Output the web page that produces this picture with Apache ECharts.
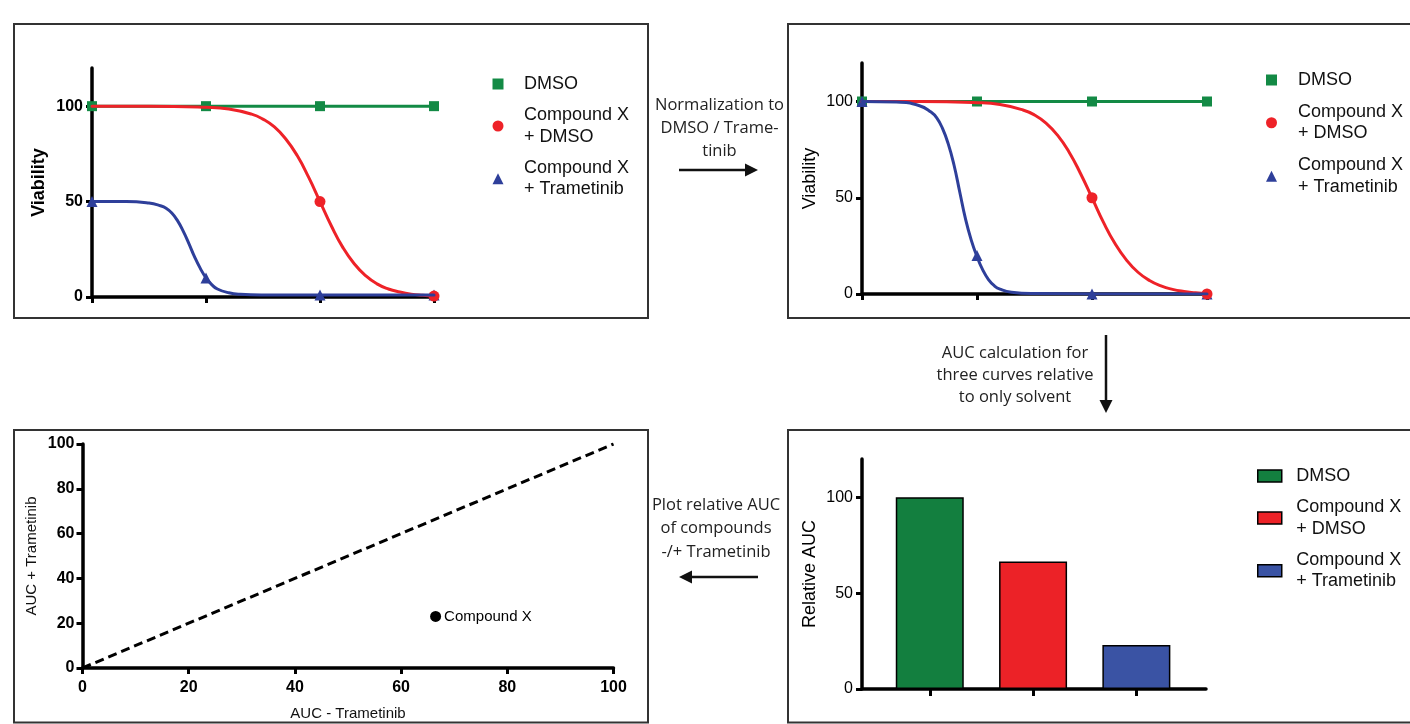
<!DOCTYPE html>
<html><head><meta charset="utf-8">
<script src="https://cdn.jsdelivr.net/npm/echarts@6/dist/echarts.min.js"></script>
<style>html,body{margin:0;padding:0;background:#fff}#c{width:1410px;height:724px}</style>
</head><body><div id="c"></div>
<script>
// ---------------- data ----------------
const seriesNames = ['DMSO', 'Compound X + DMSO', 'Compound X + Trametinib'];
const doses = [0, 1, 2, 3];
const viabilityTicks = [0, 50, 100];
const aucAxisTicks = [0, 20, 40, 60, 80, 100];

// Panel A: raw viability (points)
const rawDmso = [100, 100, 100, 100];
const rawCxDmso = [null, null, 50, 0.5];
const rawCxTram = [50, 10, 1, 1];
// Panel A: fitted curves
const fitRedX = [0, 0.5, 1.0, 1.2, 1.4, 1.5, 1.6, 1.7, 1.8, 1.9, 2.0, 2.1, 2.2, 2.3, 2.4, 2.5, 2.6, 2.7, 2.8, 2.9, 3.0];
const rawFitCxDmso = [100, 100, 99.4, 98.5, 95.8, 93.2, 89.1, 82.8, 74.1, 62.8, 50, 37.2, 26, 17.4, 11.2, 6.9, 4.2, 2.6, 1.5, 0.9, 0.5];
const rawFitTramX = [0, 0.3, 0.5, 0.6, 0.65, 0.7, 0.75, 0.8, 0.85, 0.9, 0.95, 1.0, 1.05, 1.1, 1.2, 1.3, 1.5, 2.0, 2.5, 3.0];
const rawFitCxTram = [50, 50, 49.2, 47.8, 46.5, 44, 40, 34.5, 28, 21, 15, 10, 6.5, 4.2, 2.2, 1.4, 1.05, 1, 1, 1];

// Panel B: normalized viability (points)
const normDmso = [100, 100, 100, 100];
const normCxDmso = [null, null, 50, 0];
const normCxTram = [100, 20, 0, 0];
// Panel B: fitted curves
const normFitCxDmso = [100, 100, 99.4, 98.4, 95.6, 93, 88.8, 82.5, 73.8, 62.6, 50, 37.2, 26.2, 17.6, 11.3, 7, 4.2, 2.4, 1.3, 0.6, 0];
const normFitTramX = [0, 0.3, 0.5, 0.6, 0.65, 0.7, 0.75, 0.8, 0.85, 0.9, 0.95, 1.0, 1.05, 1.1, 1.15, 1.2, 1.3, 1.5, 2.0, 3.0];
const normFitCxTram = [100, 99.7, 97.8, 94.5, 91.5, 86, 78, 67, 53, 39, 28, 19.5, 12.5, 7.5, 4.3, 2.5, 0.9, 0.2, 0, 0];

// Panel C: relative AUC
const aucValues = [100, 66.5, 23];

// Panel D: AUC -/+ Trametinib
const compoundName = 'Compound X';
const aucMinusTram = [66.5];
const aucPlusTram = [23];
const identityLine = [[0, 0], [100, 100]];

// ---------------- styling ----------------
const FONT = '"Liberation Sans", Arial, sans-serif';
const NOTE_FONT = '"Open Sans", "Noto Sans", sans-serif';
const pointColors = ['#138A45', '#EE2228', '#2E3F9A'];
const barColors = ['#137F3F', '#EC2227', '#3A53A4'];

function xy(xs, ys) { return xs.map((x, i) => [x, ys[i]]).filter(p => p[1] != null); }

function baseAxis(gridIndex, bold) {
  return {
    gridIndex: gridIndex,
    type: 'value',
    axisLine: {show: true, onZero: false, lineStyle: {color: '#000', width: 3.5}},
    axisTick: {show: true, length: 6, lineStyle: {color: '#000', width: 3}},
    splitLine: {show: false},
    axisLabel: {color: '#000', fontFamily: FONT, fontSize: 16, fontWeight: bold ? 'bold' : 'normal', margin: 9},
    nameTextStyle: {color: '#000', fontFamily: FONT, fontSize: 18, fontWeight: bold ? 'bold' : 'normal'}
  };
}
function doseAxis(g) {
  return Object.assign(baseAxis(g, false), {min: 0, max: 3, interval: 1, axisLabel: {show: false}});
}
function viabAxis(g, bold, name, gap) {
  const a = baseAxis(g, bold);
  a.min = 0; a.max = 120;
  a.axisTick.customValues = viabilityTicks;
  a.axisLabel.customValues = viabilityTicks;
  a.name = name; a.nameLocation = 'middle'; a.nameRotate = 90; a.nameGap = gap;
  return a;
}

function fitLine(idx, name, color, xs, ys) {
  return {type: 'line', name: name, xAxisIndex: idx, yAxisIndex: idx, data: xy(xs, ys),
    symbol: 'none', smooth: 0.5, lineStyle: {color: color, width: 3, cap: 'round', join: 'round'},
    itemStyle: {color: color}};
}
function pointSeries(idx, name, color, sym, size, ys) {
  return {type: 'scatter', name: name, xAxisIndex: idx, yAxisIndex: idx, data: xy(doses, ys),
    symbol: sym, symbolSize: size, itemStyle: {color: color, opacity: 1}};
}
function curvePanel(idx, pts, fits) {
  return [
    {type: 'line', name: seriesNames[0], xAxisIndex: idx, yAxisIndex: idx, data: xy(doses, pts[0]),
      symbol: 'none', lineStyle: {color: pointColors[0], width: 3}, itemStyle: {color: pointColors[0]}},
    fitLine(idx, seriesNames[1], pointColors[1], fits[0][0], fits[0][1]),
    fitLine(idx, seriesNames[2], pointColors[2], fits[1][0], fits[1][1]),
    pointSeries(idx, seriesNames[0], pointColors[0], 'rect', 10, pts[0]),
    pointSeries(idx, seriesNames[2], pointColors[2], 'triangle', 11, pts[2]),
    pointSeries(idx, seriesNames[1], pointColors[1], 'circle', 11, pts[1])
  ];
}

function legendCfg(left, top, gap, w, h, padLeft, icons, colors, extra) {
  return {
    orient: 'vertical', left: left, top: top, padding: 0, itemGap: gap, itemWidth: w, itemHeight: h,
    selectedMode: false,
    data: seriesNames.map((n, i) => ({name: n, icon: icons[i],
      itemStyle: Object.assign({color: colors[i], borderWidth: 0, opacity: 1}, extra || {})})),
    formatter: n => n.replace(' + ', '\n+ '),
    textStyle: {fontFamily: FONT, fontSize: 18, lineHeight: 21.5, color: '#111', padding: [0, 0, 0, padLeft]}
  };
}

// bar x positions on the bar panel's value axis
const barSlot = aucValues.map((v, i) => i + 0.656);

const series = [].concat(
  curvePanel(0, [rawDmso, rawCxDmso, rawCxTram], [[fitRedX, rawFitCxDmso], [rawFitTramX, rawFitCxTram]]),
  curvePanel(1, [normDmso, normCxDmso, normCxTram], [[fitRedX, normFitCxDmso], [normFitTramX, normFitCxTram]]),
  aucValues.map((v, i) => ({
    type: 'bar', name: seriesNames[i], xAxisIndex: 2, yAxisIndex: 2, stack: 'auc',
    data: [[barSlot[i], v]], barWidth: 68,
    itemStyle: {color: barColors[i], borderColor: '#000', borderWidth: 1.5, opacity: 1}
  })),
  [
    {type: 'line', name: 'identity', xAxisIndex: 3, yAxisIndex: 3, data: identityLine, symbol: 'none',
      lineStyle: {color: '#000', width: 3, type: [9, 5]}},
    {type: 'scatter', name: compoundName, xAxisIndex: 3, yAxisIndex: 3,
      data: aucMinusTram.map((x, i) => [x, aucPlusTram[i]]), symbol: 'circle', symbolSize: 11,
      itemStyle: {color: '#000', opacity: 1},
      label: {show: true, position: 'right', distance: 3, formatter: compoundName,
        fontFamily: FONT, fontSize: 15, color: '#000'}}
  ]
);

const xAxes = [
  doseAxis(0),
  doseAxis(1),
  Object.assign(baseAxis(2, false), {min: 0, max: 3.33, axisLabel: {show: false},
    axisTick: {show: true, length: 7, customValues: barSlot, lineStyle: {color: '#000', width: 3}}}),
  Object.assign(baseAxis(3, true), {min: 0, max: 100, interval: 20, name: 'AUC - Trametinib', nameLocation: 'middle', nameGap: 38,
    nameTextStyle: {color: '#111', fontFamily: FONT, fontSize: 15}})
];
xAxes[3].axisLabel.margin = 12;
xAxes[3].axisLabel.customValues = aucAxisTicks;
const yAxes = [
  viabAxis(0, true, 'Viability', 44),
  viabAxis(1, false, 'Viability', 43),
  viabAxis(2, false, 'Relative AUC', 43),
  Object.assign(baseAxis(3, true), {min: 0, max: 100, interval: 20, name: 'AUC + Trametinib', nameLocation: 'middle', nameRotate: 90, nameGap: 43,
    nameTextStyle: {color: '#111', fontFamily: FONT, fontSize: 15}})
];
yAxes[3].axisLabel.margin = 8;
yAxes[3].axisLabel.customValues = aucAxisTicks;

function arrow(x1, y1, x2, y2) {
  const dx = x2 - x1, dy = y2 - y1, L = Math.hypot(dx, dy), ux = dx / L, uy = dy / L;
  const hl = 13, hw = 6.5;
  const bx = x2 - ux * hl, by = y2 - uy * hl;
  return [
    {type: 'line', shape: {x1: x1, y1: y1, x2: bx + ux, y2: by + uy}, style: {stroke: '#111', lineWidth: 2.5}},
    {type: 'polygon', shape: {points: [[x2, y2], [bx - uy * hw, by + ux * hw], [bx + uy * hw, by - ux * hw]]}, style: {fill: '#111'}}
  ];
}
function note(text, x, y, lh) {
  return {type: 'text', style: {text: text, x: x, y: y, fill: '#222', fontFamily: NOTE_FONT, fontSize: 16.5,
    lineHeight: lh, align: 'center', textAlign: 'center', verticalAlign: 'middle', textVerticalAlign: 'middle'}};
}
function box(x, y, w, h) {
  return {type: 'rect', shape: {x: x, y: y, width: w, height: h}, style: {fill: 'none', stroke: '#333', lineWidth: 2}, z: -1};
}

const graphics = [].concat(
  [box(14, 24, 634, 294), box(788, 24, 700, 294), box(788, 430, 700, 292.5), box(14, 430, 634, 292.5)],
  [note('Normalization to\nDMSO / Trame-\ntinib', 719.5, 128, 23)],
  arrow(679, 170, 758, 170),
  [note('AUC calculation for\nthree curves relative\nto only solvent', 1015, 375, 22)],
  arrow(1106, 335, 1106, 413),
  [note('Plot relative AUC\nof compounds\n-/+ Trametinib', 716, 528.5, 23.5)],
  arrow(758, 577, 679, 577)
);

const option = {
  animation: false,
  backgroundColor: '#fff',
  grid: [
    {left: 92, top: 68, width: 342, height: 229, containLabel: false},
    {left: 862, top: 63, width: 345, height: 231, containLabel: false},
    {left: 862, top: 459, width: 344, height: 230, containLabel: false},
    {left: 82.5, top: 444, width: 531, height: 224, containLabel: false}
  ],
  xAxis: xAxes,
  yAxis: yAxes,
  legend: [
    legendCfg(492.5, 73.25, 9.75, 11, 11, 15.5, ['rect', 'circle', 'triangle'], pointColors),
    legendCfg(1266, 69.25, 10.5, 11, 11, 16, ['rect', 'circle', 'triangle'], pointColors),
    legendCfg(1257, 465.25, 9.75, 24, 12, 9.5, ['rect', 'rect', 'rect'], barColors, {borderColor: '#000', borderWidth: 1.5})
  ],
  graphic: {elements: graphics},
  series: series
};

const chart = echarts.init(document.getElementById('c'), null, {renderer: 'canvas'});
chart.setOption(option);
</script>
</body></html>
